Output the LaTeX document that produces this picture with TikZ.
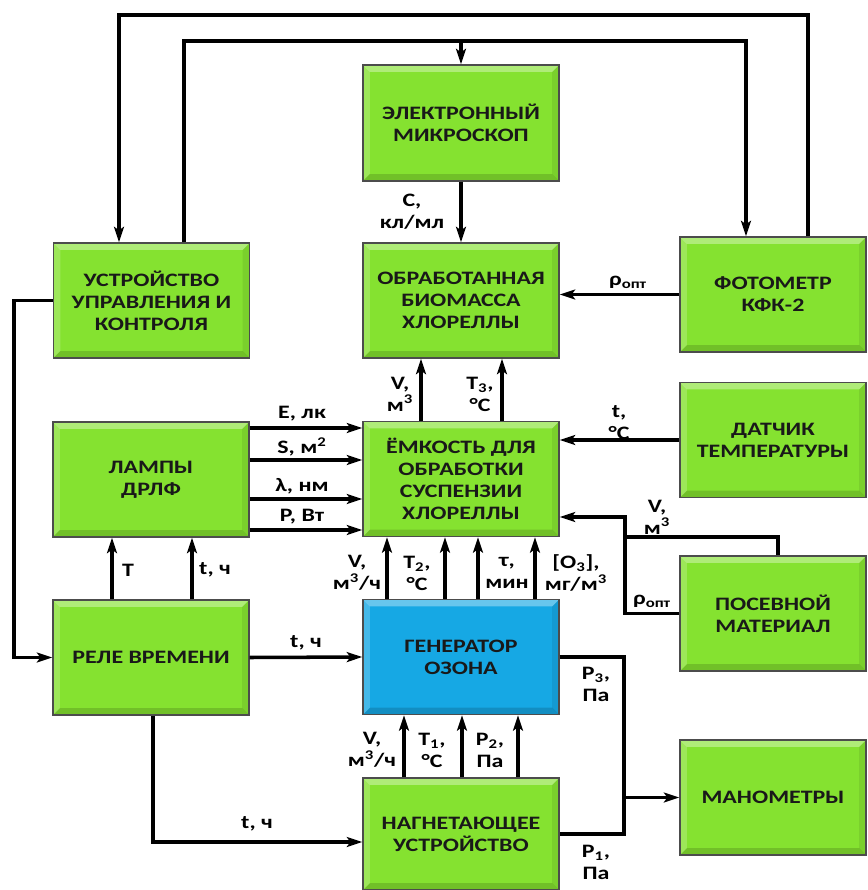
\documentclass[tikz,border=0pt]{standalone}
\usepackage{fontspec}
\setmainfont{Carlito}[FakeStretch=1.26]
\usetikzlibrary{arrows.meta, positioning}
\usepackage{xcolor}
\definecolor{boxgreen}{RGB}{133,226,48}
\definecolor{boxblue}{RGB}{22,168,228}

\tikzset{
  bevel/.style={path picture={
      \coordinate (bnw) at (path picture bounding box.north west);
      \coordinate (bne) at (path picture bounding box.north east);
      \coordinate (bsw) at (path picture bounding box.south west);
      \coordinate (bse) at (path picture bounding box.south east);
      \fill[white, opacity=.35] (bnw) -- (bne) -- ([shift={(-7,7)}]bne) -- ([shift={(7,7)}]bnw) -- cycle;
      \fill[white, opacity=.2] (bnw) -- ([shift={(7,7)}]bnw) -- ([shift={(7,-7)}]bsw) -- (bsw) -- cycle;
      \fill[black, opacity=.15] (bsw) -- (bse) -- ([shift={(-7,-7)}]bse) -- ([shift={(7,-7)}]bsw) -- cycle;
      \fill[black, opacity=.08] (bne) -- (bse) -- ([shift={(-7,-7)}]bse) -- ([shift={(-7,7)}]bne) -- cycle;
  }},
  block/.style={draw=black!70, line width=0.9pt, fill=boxgreen, bevel, inner sep=0pt,
    minimum width=4.9cm, minimum height=2.875cm, align=center, text=black!90,
    font=\bfseries\fontsize{13.5}{15.6}\selectfont},
  side/.style={block, minimum width=4.65cm},
  lbl/.style={inner sep=0pt, align=center, font=\bfseries\fontsize{13.5}{15.6}\selectfont},
  wire/.style={line width=2.5pt},
  arr/.style={wire, -{Stealth[length=11pt, width=7pt, inset=2.5pt]}}
}

\begin{document}
\begin{tikzpicture}[x=0.025cm, y=-0.025cm]
  \useasboundingbox (0,0) rectangle (868,890);

  % blocks
  \node[block, minimum height=2.9cm] (mic) at (461,123) {ЭЛЕКТРОННЫЙ\\МИКРОСКОП};
  \node[block] (ctrl) at (151.5,300.5) {УСТРОЙСТВО\\УПРАВЛЕНИЯ И\\КОНТРОЛЯ};
  \node[block] (bio) at (461,300.5) {ОБРАБОТАННАЯ\\БИОМАССА\\ХЛОРЕЛЛЫ};
  \node[side] (phot) at (773,294.5) {ФОТОМЕТР\\КФК-2};
  \node[side] (sens) at (773,440) {ДАТЧИК\\ТЕМПЕРАТУРЫ};
  \node[block] (lamp) at (151,479.5) {ЛАМПЫ\\ДРЛФ};
  \node[block] (tank) at (461,479) {ЁМКОСТЬ ДЛЯ\\ОБРАБОТКИ\\СУСПЕНЗИИ\\ХЛОРЕЛЛЫ};
  \node[side] (seed) at (773,613.5) {ПОСЕВНОЙ\\МАТЕРИАЛ};
  \node[block] (relay) at (151,657.5) {РЕЛЕ ВРЕМЕНИ};
  \node[block, fill=boxblue] (gen) at (461,657) {ГЕНЕРАТОР\\ОЗОНА};
  \node[block, minimum height=2.8cm] (pump) at (461,834) {НАГНЕТАЮЩЕЕ\\УСТРОЙСТВО};
  \node[side] (mano) at (773,797.5) {МАНОМЕТРЫ};

  % feedback loops on top
  \draw[arr] (phot.north -| 808,0) |- (119,15) -- (ctrl.north -| 119,0);
  \draw[arr] (ctrl.north -| 184,0) |- (746,41) -- (phot.north -| 746,0);
  \draw[arr] (mic.north |- 0,41) -- (mic.north);
  \draw[arr] (mic.south) -- (bio.north);
  \node[lbl] (lC) at (412,212) {C,\\кл/мл};

  \draw[arr] (ctrl.west) -- ++(-39,0) |- (relay.west);

  % right column
  \draw[arr] (phot.west) -- (phot.west -| bio.east);
  \node[lbl] (lrho1) at (628,282) {ρ\textsubscript{опт}};
  \draw[arr] (sens.west) -- (sens.west -| tank.east);
  \node[lbl] (lt) at (619,423) {t,\\°C};
  \draw[arr] (seed.west) -| (625,517) -- (tank.east |- 0,517);
  \draw[wire] (seed.north -| 778,0) |- (625,537);
  \node[lbl] (lV1) at (657,517) {V,\\м\textsuperscript{3}};
  \node[lbl] (lrho2) at (652,601) {ρ\textsubscript{опт}};

  % tank -> biomass
  \draw[arr] (tank.north -| 421,0) -- (bio.south -| 421,0);
  \draw[arr] (tank.north -| 502,0) -- (bio.south -| 502,0);
  \node[lbl] (lV4) at (400,394) {V,\\м\textsuperscript{3}};
  \node[lbl] (lT3) at (480,394) {T\textsubscript{3},\\°C};

  % lamps -> tank
  \draw[arr] (lamp.east |- 0,428) -- (tank.west |- 0,428);
  \draw[arr] (lamp.east |- 0,460) -- (tank.west |- 0,460);
  \draw[arr] (lamp.east |- 0,499) -- (tank.west |- 0,499);
  \draw[arr] (lamp.east |- 0,530) -- (tank.west |- 0,530);
  \node[lbl] (lE) at (302,414) {E, лк};
  \node[lbl] (lS) at (302,447) {S, м\textsuperscript{2}};
  \node[lbl] (lL) at (302,486) {λ, нм};
  \node[lbl] (lP) at (302,517) {P, Вт};

  % relay
  \draw[arr] (relay.north -| 112,0) -- (lamp.south -| 112,0);
  \draw[arr] (relay.north -| 192,0) -- (lamp.south -| 192,0);
  \node[lbl] (lT) at (128,570) {T};
  \node[lbl] (lt1) at (215,570) {t, ч};
  \draw[arr] (relay.east) -- (gen.west);
  \node[lbl] (lt2) at (306,643) {t, ч};
  \draw[arr] (relay.south -| 153,0) |- (pump.west |- 0,842);
  \node[lbl] (lt3) at (257,824) {t, ч};

  % generator -> tank
  \draw[arr] (gen.north -| 387,0) -- (tank.south -| 387,0);
  \draw[arr] (gen.north -| 445,0) -- (tank.south -| 445,0);
  \draw[arr] (gen.north -| 478,0) -- (tank.south -| 478,0);
  \draw[arr] (gen.north -| 535,0) -- (tank.south -| 535,0);
  \node[lbl] (lV2) at (357,573) {V,\\м\textsuperscript{3}/ч};
  \node[lbl] (lT2) at (417,573) {T\textsubscript{2},\\°C};
  \node[lbl] (ltau) at (507,573) {τ,\\мин};
  \node[lbl] (lO3) at (576,573) {[O\textsubscript{3}],\\мг/м\textsuperscript{3}};

  % pump -> generator
  \draw[arr] (pump.north -| 404,0) -- (gen.south -| 404,0);
  \draw[arr] (pump.north -| 462,0) -- (gen.south -| 462,0);
  \draw[arr] (pump.north -| 518,0) -- (gen.south -| 518,0);
  \node[lbl] (lV3) at (372,750) {V,\\м\textsuperscript{3}/ч};
  \node[lbl] (lT1) at (432,750) {T\textsubscript{1},\\°C};
  \node[lbl] (lP2) at (490,750) {P\textsubscript{2},\\Па};

  % pressures
  \draw[wire] (gen.east) -| (624,834) -- (pump.east |- 0,834);
  \draw[arr] (624,797.5) -- (mano.west);
  \node[lbl] (lP3) at (596,684) {P\textsubscript{3},\\Па};
  \node[lbl] (lP1) at (596,862) {P\textsubscript{1},\\Па};
\end{tikzpicture}
\end{document}
